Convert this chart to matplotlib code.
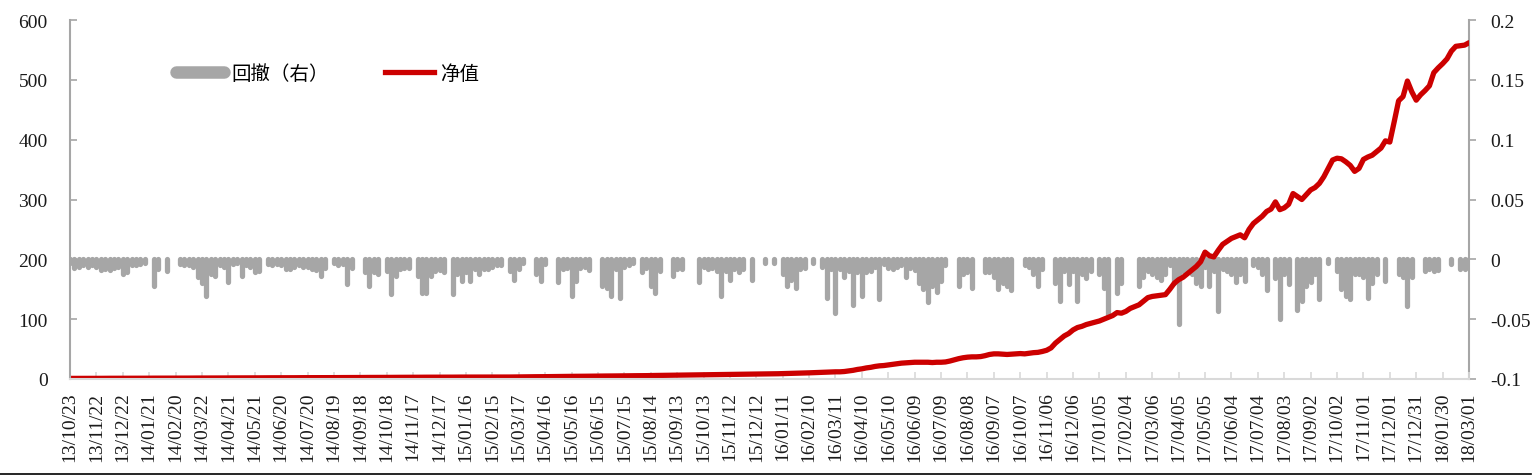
import numpy as np
import pandas as pd
import matplotlib
matplotlib.use('Agg')
import matplotlib.pyplot as plt
from matplotlib.lines import Line2D

plt.rcParams['font.family'] = ['Liberation Serif', 'Noto Sans CJK SC']

# 5-day samples from 13/10/23 to 18/03/01
start_date = '2013-10-23'
end_date = '2018-03-01'

# net value (left axis)
nav = [
    1.0, 1.0, 1.0, 1.1, 1.1, 1.1, 1.1, 1.1, 1.2, 1.2,
    1.2, 1.2, 1.2, 1.3, 1.3, 1.3, 1.3, 1.3, 1.4, 1.4,
    1.4, 1.4, 1.4, 1.5, 1.5, 1.5, 1.5, 1.5, 1.6, 1.6,
    1.6, 1.6, 1.7, 1.7, 1.7, 1.7, 1.8, 1.8, 1.8, 1.8,
    1.9, 1.9, 1.9, 1.9, 2.0, 2.0, 2.0, 2.0, 2.1, 2.1,
    2.1, 2.1, 2.2, 2.2, 2.2, 2.2, 2.3, 2.3, 2.3, 2.3,
    2.3, 2.4, 2.4, 2.4, 2.5, 2.5, 2.5, 2.6, 2.6, 2.6,
    2.6, 2.7, 2.7, 2.7, 2.8, 2.8, 2.8, 2.9, 2.9, 2.9,
    3.0, 3.0, 3.0, 3.0, 3.1, 3.1, 3.1, 3.1, 3.2, 3.2,
    3.2, 3.2, 3.2, 3.3, 3.3, 3.3, 3.3, 3.3, 3.3, 3.3,
    3.3, 3.4, 3.5, 3.5, 3.6, 3.7, 3.8, 3.8, 3.9, 4.0,
    4.1, 4.1, 4.2, 4.3, 4.4, 4.5, 4.5, 4.6, 4.7, 4.8,
    4.8, 4.9, 5.0, 5.0, 5.1, 5.2, 5.3, 5.3, 5.4, 5.5,
    5.5, 5.6, 5.8, 5.9, 6.0, 6.1, 6.2, 6.3, 6.4, 6.5,
    6.6, 6.7, 6.8, 6.9, 7.0, 7.1, 7.2, 7.3, 7.4, 7.5,
    7.6, 7.7, 7.8, 7.9, 8.0, 8.1, 8.2, 8.3, 8.4, 8.5,
    8.6, 8.8, 9.0, 9.2, 9.4, 9.6, 9.8, 10.0, 10.3, 10.6,
    11.0, 11.3, 11.6, 11.8, 12.0, 12.0, 12.5, 13.5, 14.5, 16.0,
    17.0, 18.5, 19.5, 21.0, 22.0, 22.5, 23.5, 24.5, 25.5, 26.5,
    27.0, 27.5, 28.0, 28.0, 28.0, 28.0, 27.5, 28.0, 28.0, 28.5,
    30.0, 32.0, 34.0, 35.5, 36.5, 37.0, 37.0, 37.5, 39.0, 41.0,
    42.0, 42.0, 41.5, 41.0, 41.5, 42.0, 42.5, 42.0, 43.0, 44.0,
    44.5, 46.0, 48.0, 52.0, 60.0, 66.0, 72.0, 76.0, 82.0, 86.0,
    88.0, 91.0, 93.0, 95.0, 97.0, 100.0, 103.0, 106.0, 111.0, 110.0,
    113.0, 118.0, 121.0, 124.0, 130.0, 136.0, 138.0, 139.0, 140.0, 141.0,
    150.0, 160.0, 166.0, 170.0, 176.0, 182.0, 188.0, 196.0, 212.0, 206.0,
    204.0, 215.0, 225.0, 230.0, 235.0, 238.0, 241.0, 236.0, 250.0, 260.0,
    266.0, 272.0, 280.0, 284.0, 296.0, 283.0, 286.0, 292.0, 310.0, 305.0,
    300.0, 308.0, 316.0, 320.0, 327.0, 338.0, 352.0, 366.0, 369.0, 368.0,
    363.0, 357.0, 347.0, 352.0, 367.0, 371.0, 374.0, 380.0, 386.0, 398.0,
    396.0, 430.0, 465.0, 472.0, 498.0, 480.0, 466.0, 475.0, 482.0, 490.0,
    512.0, 520.0, 527.0, 535.0, 548.0, 556.0, 557.0, 558.0, 562.0,
]

# drawdown (right axis)
drawdown = [
    -0.003, -0.007, -0.006, -0.005, -0.006, -0.005, -0.006, -0.009, -0.008, -0.009,
    -0.007, -0.006, -0.012, -0.011, -0.005, -0.005, -0.004, -0.003, 0, -0.022,
    -0.008, 0, -0.010, 0, 0, -0.004, -0.005, -0.005, -0.006, -0.015,
    -0.020, -0.031, -0.012, -0.014, -0.005, -0.006, -0.019, -0.004, -0.003, -0.014,
    -0.005, -0.006, -0.011, -0.010, 0, -0.004, -0.005, -0.004, -0.005, -0.008,
    -0.008, -0.006, -0.005, -0.006, -0.006, -0.008, -0.009, -0.014, -0.007, 0,
    -0.003, -0.005, -0.004, -0.021, -0.007, 0, 0, -0.011, -0.022, -0.011,
    -0.012, 0, -0.010, -0.029, -0.014, -0.008, -0.007, -0.007, 0, -0.014,
    -0.028, -0.028, -0.014, -0.010, -0.009, -0.011, 0, -0.029, -0.012, -0.018,
    -0.011, -0.018, -0.008, -0.012, -0.008, -0.008, -0.006, -0.005, -0.005, 0,
    -0.010, -0.017, -0.008, -0.003, 0, 0, -0.012, -0.018, -0.004, 0,
    0, -0.019, -0.008, -0.007, -0.031, -0.018, -0.007, -0.006, -0.009, 0,
    0, -0.022, -0.024, -0.031, -0.008, -0.032, -0.006, -0.005, -0.003, 0,
    -0.011, -0.007, -0.022, -0.028, -0.010, 0, 0, -0.014, -0.008, -0.008,
    0, 0, 0, -0.019, -0.006, -0.008, -0.007, -0.010, -0.031, -0.010,
    -0.017, -0.008, -0.011, -0.008, 0, -0.017, 0, 0, -0.003, 0,
    -0.003, 0, -0.012, -0.022, -0.017, -0.024, -0.008, -0.007, 0, -0.003,
    0, -0.006, -0.032, -0.008, -0.045, -0.008, -0.015, -0.010, -0.038, -0.011,
    -0.031, -0.011, -0.010, -0.006, -0.033, -0.004, -0.007, -0.008, -0.006, -0.005,
    -0.015, -0.007, -0.009, -0.020, -0.025, -0.036, -0.022, -0.027, -0.018, -0.005,
    0, 0, -0.022, -0.012, -0.011, -0.024, 0, 0, -0.011, -0.011,
    -0.015, -0.025, -0.020, -0.022, -0.026, 0, 0, -0.005, -0.006, -0.012,
    -0.022, -0.008, 0, 0, -0.020, -0.035, -0.010, -0.021, -0.010, -0.035,
    -0.012, -0.016, -0.010, 0, -0.012, -0.024, -0.046, 0, -0.028, -0.020,
    0, 0, 0, -0.022, -0.015, -0.010, -0.012, -0.015, -0.017, -0.012,
    -0.005, -0.020, -0.054, -0.010, -0.011, -0.012, -0.020, -0.022, -0.006, -0.022,
    -0.010, -0.043, -0.008, -0.010, -0.012, -0.019, -0.012, -0.018, 0, -0.005,
    -0.006, -0.012, -0.026, 0, -0.016, -0.050, -0.012, -0.021, 0, -0.042,
    -0.035, -0.022, -0.019, -0.012, -0.033, 0, -0.003, 0, -0.010, -0.025,
    -0.031, -0.033, -0.012, -0.012, -0.015, -0.032, -0.020, -0.012, 0, -0.018,
    0, 0, -0.012, -0.015, -0.039, -0.015, 0, 0, -0.010, -0.008,
    -0.010, -0.009, 0, 0, -0.004, 0, -0.008, -0.008, -0.007,
]

dates = pd.date_range(start_date, end_date, freq='5D')
tick_dates = pd.date_range(start_date, end_date, freq='30D')
tick_labels = [d.strftime('%y/%m/%d') for d in tick_dates]

nav = np.array(nav)
drawdown = np.array(drawdown)

bar_color = '#A6A6A6'
line_color = '#CC0000'

fig = plt.figure(figsize=(15.36, 4.77), dpi=100)
ax = fig.add_axes([70/1536, 1-380/477, 1399/1536, 359/477])
ax2 = ax.twinx()

# drawdown bars on the right axis
mask = drawdown != 0
bars = ax2.vlines(dates[mask], drawdown[mask], 0, color=bar_color, linewidth=3.8)
bars.set_capstyle('round')

# net value on the left axis, above the bars
ax.plot(dates, nav, color=line_color, linewidth=3.8, solid_capstyle='round',
        solid_joinstyle='round')
ax.set_zorder(ax2.get_zorder() + 1)
ax.patch.set_visible(False)

ax.set_xlim(dates[0], dates[-1])
ax.set_ylim(0, 600)
ax.set_yticks(np.arange(0, 601, 100))
ax2.set_ylim(-0.1, 0.2)
ax2.set_yticks([-0.1, -0.05, 0, 0.05, 0.1, 0.15, 0.2])
ax2.set_yticklabels(['-0.1', '-0.05', '0', '0.05', '0.1', '0.15', '0.2'])

ax.set_xticks(tick_dates)
ax.set_xticklabels(tick_labels, rotation=90)

for a in (ax, ax2):
    a.spines['top'].set_visible(False)
ax.spines['right'].set_visible(False)
ax2.spines['left'].set_visible(False)
ax2.spines['bottom'].set_visible(False)
ax.spines['left'].set_color('#A6A6A6')
ax.spines['left'].set_linewidth(1.5)
ax2.spines['right'].set_color('#A6A6A6')
ax2.spines['right'].set_linewidth(1.5)
ax.spines['bottom'].set_color('#D9D9D9')
ax.spines['bottom'].set_linewidth(1.5)

ax.tick_params(axis='y', direction='in', length=5, width=1.2, color='#A6A6A6',
               labelsize=14, labelcolor='#1A1A1A', pad=16)
ax2.tick_params(axis='y', direction='out', length=5, width=1.2, color='#A6A6A6',
                labelsize=14, labelcolor='#1A1A1A', pad=10)
ax.tick_params(axis='x', direction='in', length=5, width=1.2, color='#D9D9D9',
               labelsize=14, labelcolor='#1A1A1A', pad=9)

handles = [Line2D([], [], color=bar_color, linewidth=9, solid_capstyle='round'),
           Line2D([], [], color=line_color, linewidth=3.8)]
ax.legend(handles, ['回撤（右）', '净值'], loc='center left',
          bbox_to_anchor=(0.063, 0.85), ncol=2, frameon=False,
          fontsize=14, handlelength=2.5, handletextpad=0.35, columnspacing=2.9)

fig.add_artist(Line2D([0, 0.997], [1-475/477, 1-475/477], transform=fig.transFigure,
                      color='black', linewidth=1.2))

fig.savefig('out.png', dpi=100)
